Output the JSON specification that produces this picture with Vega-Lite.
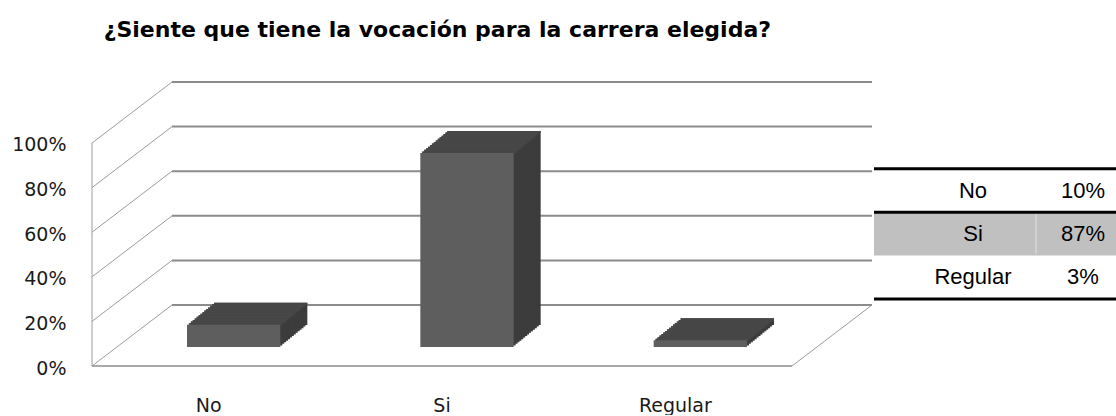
{
  "$schema": "https://vega.github.io/schema/vega-lite/v6.json",
  "background": "white",
  "padding": {"left": 11, "top": 18, "right": 0, "bottom": 0},
  "title": {"text": "¿Siente que tiene la vocación para la carrera elegida?", "anchor": "start", "dx": 92, "offset": 39, "font": "DejaVu Sans", "fontWeight": "bold", "fontSize": 22, "color": "#000000"},
  "datasets": {
    "answers": [
      {"cat": "No", "pct": 0.10},
      {"cat": "Si", "pct": 0.87},
      {"cat": "Regular", "pct": 0.03}
    ],
    "ticks": [{"t": 0}, {"t": 0.2}, {"t": 0.4}, {"t": 0.6}, {"t": 0.8}, {"t": 1}]
  },
  "spacing": -2,
  "hconcat": [
    {
      "width": 780,
      "height": 284,
      "data": {"name": "answers"},
      "encoding": {
        "x": {"field": "cat", "type": "nominal", "sort": null, "title": null,
          "scale": {"type": "band", "domain": ["No", "Si", "Regular"], "paddingInner": 0, "paddingOuter": 0.1714, "align": 0},
          "axis": {"labelAngle": 0, "domain": false, "ticks": false, "grid": false, "labelPadding": 30, "labelFont": "DejaVu Sans", "labelFontSize": 19, "labelColor": "#1a1a1a", "title": null}},
        "y": {"field": "pct", "type": "quantitative", "title": null,
          "scale": {"domain": [0, 1.2735], "nice": false, "zero": true},
          "axis": {"values": [0, 0.2, 0.4, 0.6, 0.8, 1], "format": ".0%", "domain": false, "ticks": false, "grid": false, "labelPadding": 26, "labelOffset": 2, "labelFont": "DejaVu Sans", "labelFontSize": 19, "labelColor": "#1a1a1a", "title": null}}
      },
      "layer": [
        {"data": {"name": "ticks"},
         "mark": {"type": "rule", "color": "#8c8c8c", "strokeWidth": 2, "xOffset": 80, "x2Offset": 80, "yOffset": -61},
         "encoding": {"x": {"datum": "No", "bandPosition": 0, "title": null}, "x2": {"datum": "Regular", "bandPosition": 1}, "y": {"field": "t", "type": "quantitative", "title": null}}},
        {"data": {"name": "ticks"},
         "mark": {"type": "rule", "color": "#9c9c9c", "strokeWidth": 1, "x2Offset": 80, "y2Offset": -61},
         "encoding": {"x": {"datum": "No", "bandPosition": 0, "title": null}, "x2": {"datum": "No", "bandPosition": 0}, "y": {"field": "t", "type": "quantitative", "title": null}, "y2": {"field": "t"}}},
        {"data": {"name": "ticks"}, "transform": [{"filter": "datum.t == 1"}],
         "mark": {"type": "rule", "color": "#9c9c9c", "strokeWidth": 1},
         "encoding": {"x": {"datum": "No", "bandPosition": 0, "title": null}, "y": {"field": "t", "type": "quantitative", "title": null}, "y2": {"datum": 0}}},
        {"data": {"name": "ticks"}, "transform": [{"filter": "datum.t == 0"}],
         "mark": {"type": "rule", "color": "#8c8c8c", "strokeWidth": 1.5},
         "encoding": {"x": {"datum": "No", "bandPosition": 0, "title": null}, "x2": {"datum": "Regular", "bandPosition": 1}, "y": {"field": "t", "type": "quantitative", "title": null}}},
        {"data": {"name": "ticks"}, "transform": [{"filter": "datum.t == 0"}],
         "mark": {"type": "rule", "color": "#9c9c9c", "strokeWidth": 1, "x2Offset": 80, "y2Offset": -61},
         "encoding": {"x": {"datum": "Regular", "bandPosition": 1, "title": null}, "x2": {"datum": "Regular", "bandPosition": 1}, "y": {"field": "t", "type": "quantitative", "title": null}, "y2": {"field": "t"}}},
        {"mark": {"type": "bar", "color": "#3c3c3c", "width": {"band": 0.4}, "xOffset": 52, "x2Offset": 52, "yOffset": -41, "y2Offset": -41}},
        {"mark": {"type": "bar", "color": "#3c3c3c", "width": {"band": 0.4}, "xOffset": 50.07, "x2Offset": 50.07, "yOffset": -39.43, "y2Offset": -39.43}},
        {"mark": {"type": "bar", "color": "#3c3c3c", "width": {"band": 0.4}, "xOffset": 48.14, "x2Offset": 48.14, "yOffset": -37.86, "y2Offset": -37.86}},
        {"mark": {"type": "bar", "color": "#3c3c3c", "width": {"band": 0.4}, "xOffset": 46.21, "x2Offset": 46.21, "yOffset": -36.29, "y2Offset": -36.29}},
        {"mark": {"type": "bar", "color": "#3c3c3c", "width": {"band": 0.4}, "xOffset": 44.29, "x2Offset": 44.29, "yOffset": -34.71, "y2Offset": -34.71}},
        {"mark": {"type": "bar", "color": "#3c3c3c", "width": {"band": 0.4}, "xOffset": 42.36, "x2Offset": 42.36, "yOffset": -33.14, "y2Offset": -33.14}},
        {"mark": {"type": "bar", "color": "#3c3c3c", "width": {"band": 0.4}, "xOffset": 40.43, "x2Offset": 40.43, "yOffset": -31.57, "y2Offset": -31.57}},
        {"mark": {"type": "bar", "color": "#3c3c3c", "width": {"band": 0.4}, "xOffset": 38.5, "x2Offset": 38.5, "yOffset": -30, "y2Offset": -30}},
        {"mark": {"type": "bar", "color": "#3c3c3c", "width": {"band": 0.4}, "xOffset": 36.57, "x2Offset": 36.57, "yOffset": -28.43, "y2Offset": -28.43}},
        {"mark": {"type": "bar", "color": "#3c3c3c", "width": {"band": 0.4}, "xOffset": 34.64, "x2Offset": 34.64, "yOffset": -26.86, "y2Offset": -26.86}},
        {"mark": {"type": "bar", "color": "#3c3c3c", "width": {"band": 0.4}, "xOffset": 32.71, "x2Offset": 32.71, "yOffset": -25.29, "y2Offset": -25.29}},
        {"mark": {"type": "bar", "color": "#3c3c3c", "width": {"band": 0.4}, "xOffset": 30.79, "x2Offset": 30.79, "yOffset": -23.71, "y2Offset": -23.71}},
        {"mark": {"type": "bar", "color": "#3c3c3c", "width": {"band": 0.4}, "xOffset": 28.86, "x2Offset": 28.86, "yOffset": -22.14, "y2Offset": -22.14}},
        {"mark": {"type": "bar", "color": "#3c3c3c", "width": {"band": 0.4}, "xOffset": 26.93, "x2Offset": 26.93, "yOffset": -20.57, "y2Offset": -20.57}},
        {"mark": {"type": "bar", "color": "#474747", "width": {"band": 0.4}, "xOffset": 52, "x2Offset": 52, "yOffset": -41, "y2Offset": -39}, "encoding": {"y2": {"field": "pct"}}},
        {"mark": {"type": "bar", "color": "#474747", "width": {"band": 0.4}, "xOffset": 50.07, "x2Offset": 50.07, "yOffset": -39.43, "y2Offset": -37.43}, "encoding": {"y2": {"field": "pct"}}},
        {"mark": {"type": "bar", "color": "#474747", "width": {"band": 0.4}, "xOffset": 48.14, "x2Offset": 48.14, "yOffset": -37.86, "y2Offset": -35.86}, "encoding": {"y2": {"field": "pct"}}},
        {"mark": {"type": "bar", "color": "#474747", "width": {"band": 0.4}, "xOffset": 46.21, "x2Offset": 46.21, "yOffset": -36.29, "y2Offset": -34.29}, "encoding": {"y2": {"field": "pct"}}},
        {"mark": {"type": "bar", "color": "#474747", "width": {"band": 0.4}, "xOffset": 44.29, "x2Offset": 44.29, "yOffset": -34.71, "y2Offset": -32.71}, "encoding": {"y2": {"field": "pct"}}},
        {"mark": {"type": "bar", "color": "#474747", "width": {"band": 0.4}, "xOffset": 42.36, "x2Offset": 42.36, "yOffset": -33.14, "y2Offset": -31.14}, "encoding": {"y2": {"field": "pct"}}},
        {"mark": {"type": "bar", "color": "#474747", "width": {"band": 0.4}, "xOffset": 40.43, "x2Offset": 40.43, "yOffset": -31.57, "y2Offset": -29.57}, "encoding": {"y2": {"field": "pct"}}},
        {"mark": {"type": "bar", "color": "#474747", "width": {"band": 0.4}, "xOffset": 38.5, "x2Offset": 38.5, "yOffset": -30, "y2Offset": -28}, "encoding": {"y2": {"field": "pct"}}},
        {"mark": {"type": "bar", "color": "#474747", "width": {"band": 0.4}, "xOffset": 36.57, "x2Offset": 36.57, "yOffset": -28.43, "y2Offset": -26.43}, "encoding": {"y2": {"field": "pct"}}},
        {"mark": {"type": "bar", "color": "#474747", "width": {"band": 0.4}, "xOffset": 34.64, "x2Offset": 34.64, "yOffset": -26.86, "y2Offset": -24.86}, "encoding": {"y2": {"field": "pct"}}},
        {"mark": {"type": "bar", "color": "#474747", "width": {"band": 0.4}, "xOffset": 32.71, "x2Offset": 32.71, "yOffset": -25.29, "y2Offset": -23.29}, "encoding": {"y2": {"field": "pct"}}},
        {"mark": {"type": "bar", "color": "#474747", "width": {"band": 0.4}, "xOffset": 30.79, "x2Offset": 30.79, "yOffset": -23.71, "y2Offset": -21.71}, "encoding": {"y2": {"field": "pct"}}},
        {"mark": {"type": "bar", "color": "#474747", "width": {"band": 0.4}, "xOffset": 28.86, "x2Offset": 28.86, "yOffset": -22.14, "y2Offset": -20.14}, "encoding": {"y2": {"field": "pct"}}},
        {"mark": {"type": "bar", "color": "#474747", "width": {"band": 0.4}, "xOffset": 26.93, "x2Offset": 26.93, "yOffset": -20.57, "y2Offset": -18.57}, "encoding": {"y2": {"field": "pct"}}},
        {"mark": {"type": "bar", "color": "#5e5e5e", "width": {"band": 0.4}, "xOffset": 25, "x2Offset": 25, "yOffset": -19, "y2Offset": -19}}
      ]
    },
    {
      "width": 242,
      "height": 217,
      "data": {"name": "answers"},
      "encoding": {
        "y": {"field": "cat", "type": "nominal", "sort": null,
          "scale": {"type": "band", "domain": ["No", "Si", "Regular"], "paddingInner": 0, "paddingOuter": 1.168, "align": 1},
          "axis": null}
      },
      "layer": [
        {"transform": [{"filter": {"field": "cat", "equal": "Si"}}],
         "mark": {"type": "rect", "color": "#c0c0c0"}},
        {"transform": [{"filter": {"field": "cat", "equal": "Si"}}],
         "mark": {"type": "rule", "color": "#e2e2e2", "strokeWidth": 1, "xOffset": -47, "yOffset": -20, "y2Offset": 20},
         "encoding": {"x": {"datum": "pct", "scale": {"type": "point", "domain": ["cat", "pct"], "range": [99, 209], "padding": 0}, "axis": null}, "y2": {"field": "cat"}}},
        {"transform": [{"filter": {"field": "cat", "oneOf": ["No", "Si"]}}],
         "mark": {"type": "rule", "color": "#000000", "strokeWidth": 3},
         "encoding": {"y": {"field": "cat", "type": "nominal", "bandPosition": 0}}},
        {"transform": [{"filter": {"field": "cat", "equal": "Regular"}}],
         "mark": {"type": "rule", "color": "#000000", "strokeWidth": 3},
         "encoding": {"y": {"field": "cat", "type": "nominal", "bandPosition": 1}}},
        {"mark": {"type": "text", "font": "Liberation Sans", "fontSize": 22, "color": "#000000"},
         "encoding": {"x": {"datum": "cat", "axis": null}, "text": {"field": "cat"}}},
        {"mark": {"type": "text", "font": "Liberation Sans", "fontSize": 22, "color": "#000000"},
         "encoding": {"x": {"datum": "pct", "axis": null}, "text": {"field": "pct", "format": ".0%"}}}
      ]
    }
  ],
  "config": {"view": {"stroke": null}}
}
